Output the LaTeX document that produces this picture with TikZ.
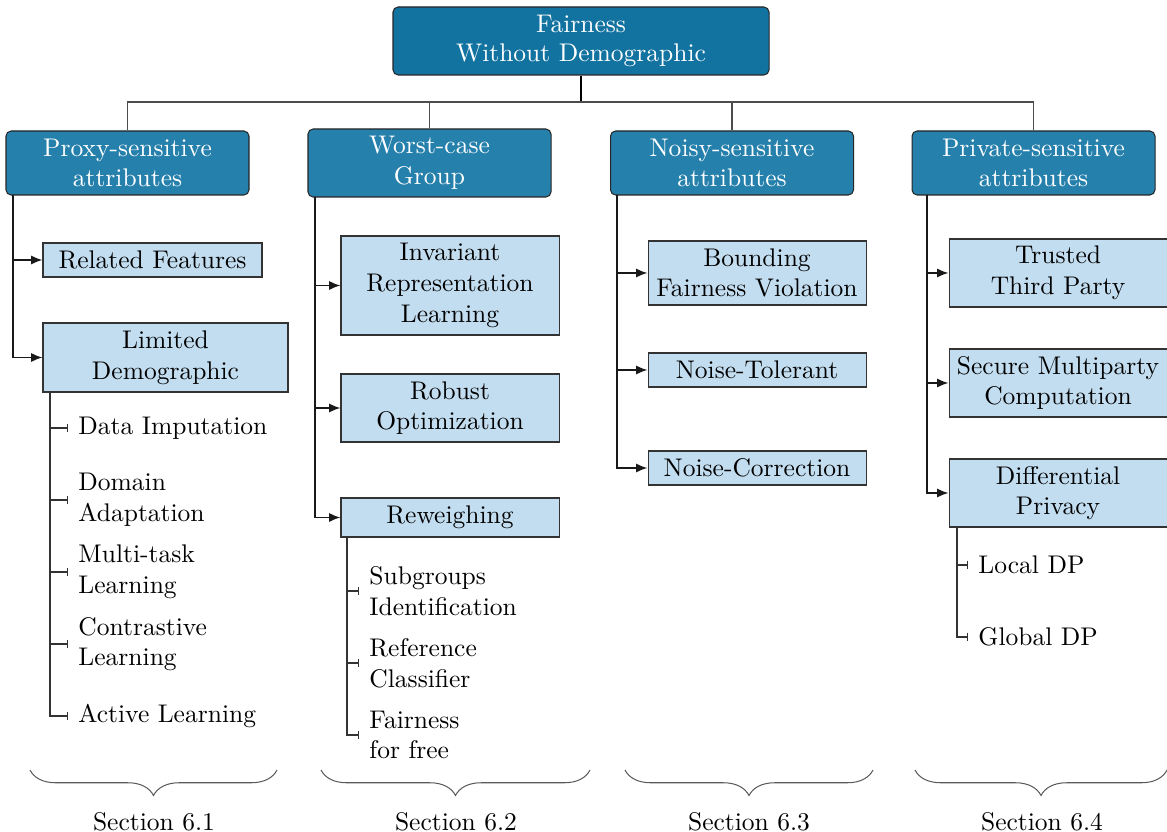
\documentclass[tikz,border=0pt]{standalone}
\usetikzlibrary{arrows.meta,decorations.pathreplacing}

\definecolor{rootblue}{HTML}{1272A0}
\definecolor{catblue}{HTML}{2680AC}
\definecolor{leafblue}{HTML}{C3DDF0}

\newcommand{\pxu}{0.392pt}

\tikzset{
  rootbox/.style={draw=black!85, fill=rootblue, rounded corners=2pt, text=white,
    align=center, inner sep=0pt, minimum width=376*\pxu, minimum height=68*\pxu},
  catbox/.style={draw=black!85, fill=catblue, rounded corners=2pt, text=white,
    align=center, inner sep=0pt, minimum width=243*\pxu, minimum height=64*\pxu},
  methodbox/.style={draw=black!80, fill=leafblue, align=center, inner sep=0pt,
    minimum width=218*\pxu},
  subleaf/.style={anchor=west, align=left, inner xsep=3.9pt, inner ysep=0pt},
  busline/.style={draw=black!70, line width=0.45pt},
  trunkline/.style={draw=black!90, line width=0.6pt},
  toarrow/.style={trunkline, -{Latex[length=4.5pt,width=3.6pt]}},
  tobar/.style={draw=black!80, line width=0.5pt, -{Bar[width=3.4pt]}},
  sectionbrace/.style={draw=black!65, line width=0.4pt, decorate,
    decoration={brace, mirror, amplitude=10pt}},
  lowered/.style={yshift=-0.8pt},
}

\begin{document}
\begin{tikzpicture}[x=0.392pt, y=-0.392pt]
\useasboundingbox (0,0) rectangle (1167,832);

% root and the four families
\node[rootbox] (root) at (581,41) {\raisebox{-0.8pt}{\shortstack{Fairness\\[1pt]Without Demographic}}};
\node[catbox] (c1) at (127.5,163) {Proxy-sensitive\\attributes};
\node[catbox, minimum height=68*\pxu] (c2) at (429.5,163) {Worst-case\\Group};
\node[catbox] (c3) at (732,163) {Noisy-sensitive\\attributes};
\node[catbox] (c4) at (1033.5,163) {Private-sensitive\\attributes};

% bus from the root to the families
\coordinate (bus) at (581,102);
\draw[line width=0.9pt] (root.south) -- (bus);
\draw[busline] (c1.north) |- (bus) -| (c4.north);
\draw[busline] (c2.north) -- (c2.north |- bus);
\draw[busline] (c3.north) -- (c3.north |- bus);

% family 1: proxy-sensitive attributes
\node[methodbox, minimum width=219*\pxu, minimum height=34*\pxu] (rf) at (152.5,260) {Related Features};
\node[methodbox, minimum width=245*\pxu, minimum height=69*\pxu] (ld) at (165.5,357.5) {Limited\\Demographic};
\coordinate (t1) at (13,195);
\draw[toarrow] (t1) |- (rf.west);
\draw[toarrow] (t1) |- (ld.west);

\node[subleaf] (ld1) at (68,428) {Data Imputation};
\node[subleaf] (ld2) at (68,500) {Domain\\Adaptation};
\node[subleaf] (ld3) at (68,572) {Multi-task\\Learning};
\node[subleaf] (ld4) at (68,644) {Contrastive\\Learning};
\node[subleaf] (ld5) at (68,716) {Active Learning};
\coordinate (s1) at (50,392);
\foreach \n in {ld1,ld2,ld3,ld4,ld5} \draw[tobar] (s1) |- (\n.west);

% family 2: worst-case group
\node[methodbox, minimum height=99*\pxu] (irl) at (450,285.5) {Invariant\\Representation\\Learning};
\node[methodbox, minimum height=68*\pxu] (ro) at (450,408) {Robust\\Optimization};
\node[methodbox, minimum height=39*\pxu] (rw) at (450,517.5) {Reweighing};
\coordinate (t2) at (315,197);
\foreach \n in {irl,ro,rw} \draw[toarrow] (t2) |- (\n.west);

\node[subleaf] (rw1) at (359,591) {Subgroups\\Identification};
\node[subleaf] (rw2) at (359,663) {Reference\\Classifier};
\node[subleaf] (rw3) at (359,735) {Fairness\\for free};
\coordinate (s2) at (347,537);
\foreach \n in {rw1,rw2,rw3} \draw[tobar] (s2) |- (\n.west);

% family 3: noisy-sensitive attributes
\node[methodbox, minimum height=64*\pxu] (bfv) at (757,273) {Bounding\\Fairness Violation};
\node[methodbox, minimum height=34*\pxu] (nt) at (757,370) {Noise-Tolerant};
\node[methodbox, minimum height=34*\pxu] (nc) at (757,468) {Noise-Correction};
\coordinate (t3) at (617,195);
\foreach \n in {bfv,nt,nc} \draw[toarrow] (t3) |- (\n.west);

% family 4: private-sensitive attributes
\node[methodbox, minimum height=68*\pxu] (ttp) at (1058,273) {Trusted\\Third Party};
\node[methodbox, minimum height=68*\pxu] (smc) at (1058,383) {Secure Multiparty\\Computation};
\node[methodbox, minimum height=68*\pxu] (dp) at (1058,493) {Differential\\Privacy};
\coordinate (t4) at (927,195);
\foreach \n in {ttp,smc,dp} \draw[toarrow] (t4) |- (\n.west);

\node[subleaf] (dp1) at (968,565) {Local DP};
\node[subleaf] (dp2) at (968,637) {Global DP};
\coordinate (s4) at (957,527);
\foreach \n in {dp1,dp2} \draw[tobar] (s4) |- (\n.west);

% section braces
\coordinate (b1a) at (30,770);  \coordinate (b1b) at (277,770);
\coordinate (b2a) at (321,770); \coordinate (b2b) at (590,770);
\coordinate (b3a) at (625,770); \coordinate (b3b) at (873,770);
\coordinate (b4a) at (915,770); \coordinate (b4b) at (1167,770);
\draw[sectionbrace] (b1a) -- (b1b);
\draw[sectionbrace] (b2a) -- (b2b);
\draw[sectionbrace] (b3a) -- (b3b);
\draw[sectionbrace] (b4a) -- (b4b);
\node (sec1) at (154,822) {Section 6.1};
\node (sec2) at (456,822) {Section 6.2};
\node (sec3) at (749,822) {Section 6.3};
\node (sec4) at (1042,822) {Section 6.4};
\end{tikzpicture}
\end{document}
